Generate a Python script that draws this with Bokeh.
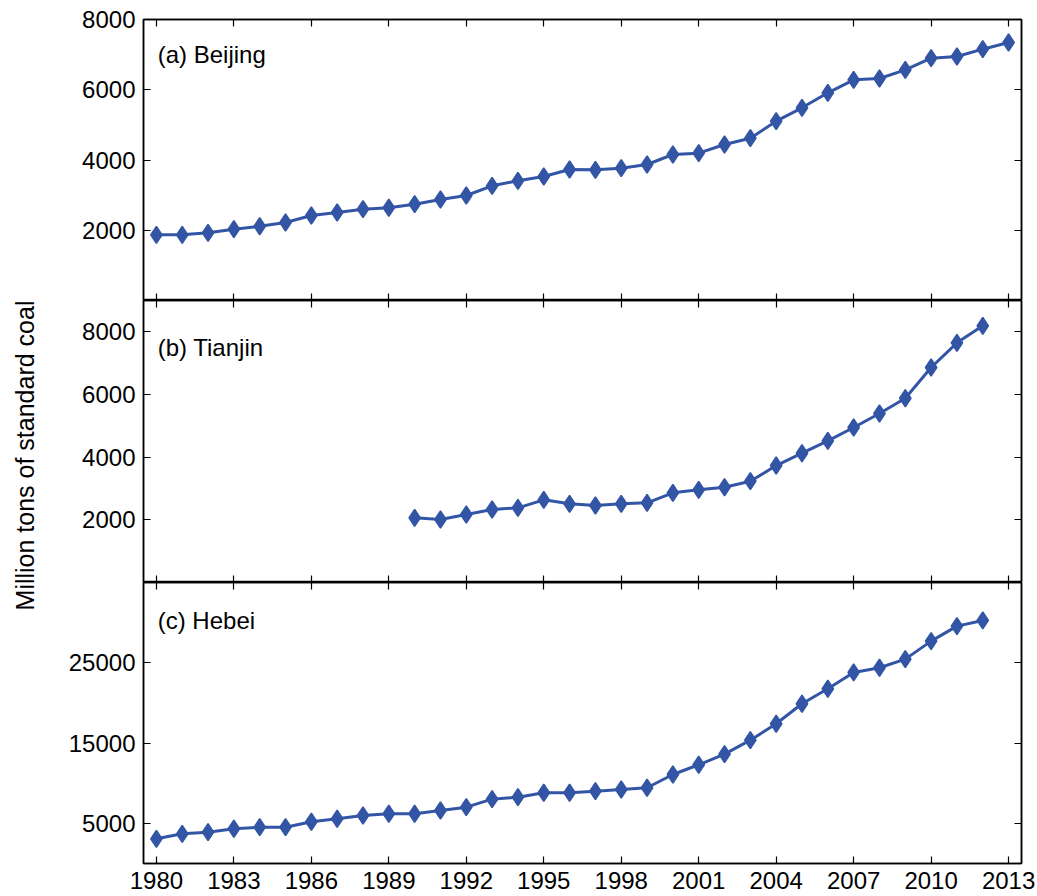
import math
from bokeh.plotting import figure
from bokeh.layouts import column, row
from bokeh.models import (Range1d, FixedTicker, LinearAxis, Label, ColumnDataSource,
                          CustomLabelingPolicy)
from bokeh.embed import file_html
from bokeh.resources import INLINE

x_ticks = [1980, 1983, 1986, 1989, 1992, 1995, 1998, 2001, 2004, 2007, 2010, 2013]

beijing_years = list(range(1980, 2014))
beijing = [1870, 1870, 1927, 2030, 2115, 2220, 2420, 2505, 2600, 2640,
           2742, 2875, 2990, 3265, 3408, 3530, 3730, 3720, 3767, 3872,
           4157, 4194, 4441, 4621, 5105, 5486, 5913, 6283, 6320, 6568,
           6898, 6947, 7155, 7345]

tianjin_years = list(range(1990, 2013))
tianjin = [2064, 2010, 2170, 2329, 2383, 2638, 2511, 2457, 2511, 2543,
           2862, 2958, 3041, 3233, 3733, 4126, 4521, 4946, 5393, 5881,
           6861, 7649, 8191]

hebei_years = list(range(1980, 2013))
hebei = [3077, 3700, 3900, 4324, 4523, 4523, 5196, 5570, 5981, 6193,
         6193, 6604, 7015, 8012, 8261, 8809, 8809, 9009, 9220, 9432,
         11089, 12298, 13619, 15364, 17407, 19898, 21767, 23799, 24385, 25456,
         27699, 29568, 30278]

panel_titles = ["(a) Beijing", "(b) Tianjin", "(c) Hebei"]
y_ranges = [(0, 8000), (0, 9000), (0, 35000)]
y_ticks = [[2000, 4000, 6000, 8000], [2000, 4000, 6000, 8000], [5000, 15000, 25000]]
label_y = [7010, 7510, 30280]
y_title = "Million tons of standard coal"

COLOR = "#3355A5"
FONT = "Liberation Sans"
TICK_SIZE = "24px"
TITLE_W = 40

series = [(beijing_years, beijing), (tianjin_years, tianjin), (hebei_years, hebei)]

no_labels = CustomLabelingPolicy(code="return new Set()")

# narrow strip holding the shared y-axis title
tf = figure(output_backend="svg", toolbar_location=None,
            frame_width=TITLE_W, frame_height=896,
            x_range=Range1d(0, TITLE_W), y_range=Range1d(0, 896),
            min_border=0, x_axis_location=None, y_axis_location=None)
tf.grid.visible = False
tf.outline_line_color = None
tf.add_layout(Label(x=24, y=896 - 455, text=y_title, angle=math.pi / 2,
                    text_align="center", text_baseline="middle",
                    text_font=FONT, text_font_size="25px", text_color="black"))

x_range = Range1d(1979.5, 2013.5)
figs = []
for i in range(3):
    last = (i == 2)
    p = figure(output_backend="svg", toolbar_location=None,
               frame_width=878, frame_height=281 if i != 1 else 282,
               x_range=x_range, y_range=Range1d(*y_ranges[i]),
               min_border_left=143 - TITLE_W, min_border_right=16,
               min_border_top=19 if i == 0 else 0,
               min_border_bottom=33 if last else 0,
               x_axis_location=None, y_axis_location=None)
    p.grid.visible = False
    p.outline_line_color = "black"
    p.outline_line_width = 1.5
    p.background_fill_color = "white"
    p.border_fill_color = "white"

    def style(ax, labels, ticks):
        ax.ticker = FixedTicker(ticks=ticks)
        ax.minor_tick_line_color = None
        ax.major_tick_in = 7
        ax.major_tick_out = 0
        ax.major_tick_line_color = "black"
        ax.major_tick_line_width = 1.2
        ax.axis_line_color = "black"
        ax.axis_line_width = 1.5
        if labels:
            ax.major_label_text_font = FONT
            ax.major_label_text_font_size = TICK_SIZE
            ax.major_label_text_color = "black"
            ax.major_label_standoff = 8
        else:
            ax.major_label_policy = no_labels
            ax.major_label_text_font_size = "0px"
            ax.major_label_standoff = 0

    left = LinearAxis()
    style(left, True, y_ticks[i])
    p.add_layout(left, "left")
    right = LinearAxis()
    style(right, False, y_ticks[i])
    p.add_layout(right, "right")
    above = LinearAxis()
    style(above, False, x_ticks)
    p.add_layout(above, "above")
    below = LinearAxis()
    style(below, last, x_ticks)
    p.add_layout(below, "below")

    xs, ys = series[i]
    src = ColumnDataSource(dict(x=xs, y=ys))
    p.line("x", "y", source=src, line_color=COLOR, line_width=3)
    p.scatter("x", "y", source=src, marker="diamond", size=17,
              fill_color=COLOR, line_color=COLOR, line_width=1.5)

    p.add_layout(Label(x=1980.05, y=label_y[i], text=panel_titles[i],
                       text_font=FONT, text_font_size="24px",
                       text_color="black", text_baseline="alphabetic"))
    figs.append(p)

layout = row(tf, column(*figs, spacing=0), spacing=0)
open("out.html", "w").write(file_html(layout, INLINE))
